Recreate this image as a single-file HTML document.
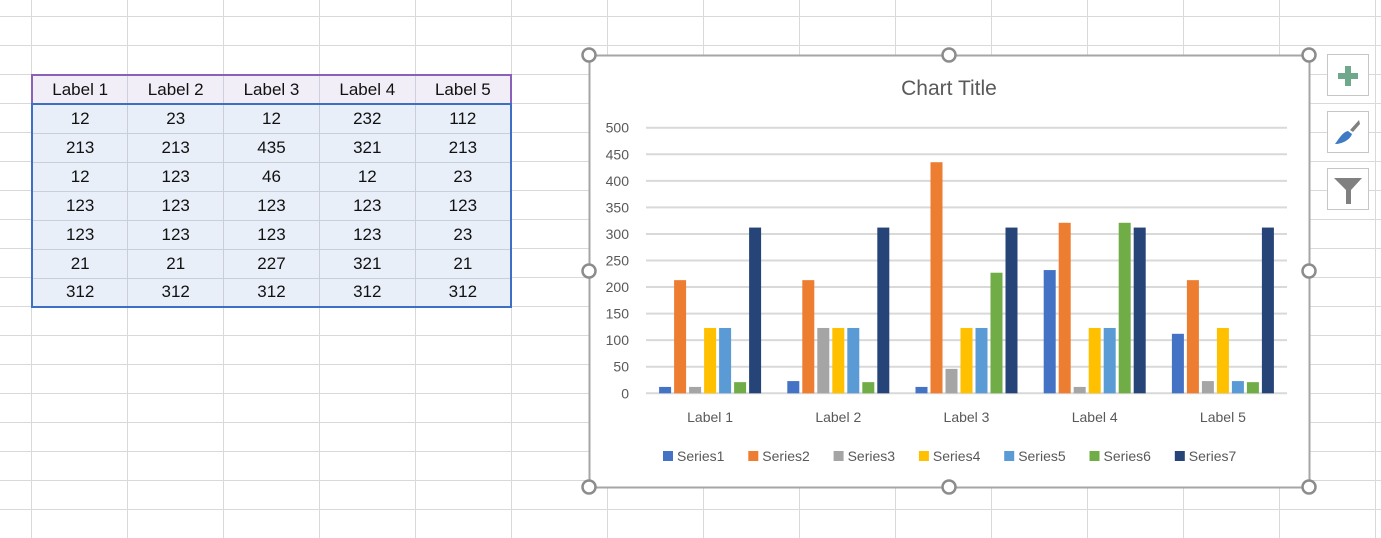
<!DOCTYPE html>
<html><head><meta charset="utf-8">
<style>
body{margin:0;width:1381px;height:538px;overflow:hidden;background:#fff;font-family:"Liberation Sans",sans-serif;position:relative}
.abs{position:absolute}
#tbl td{box-sizing:border-box}
</style></head>
<body>
<svg class="abs" style="left:0;top:0" width="1381" height="538" id="grid"></svg>

<table class="abs" style="left:31px;top:74px;width:481px;table-layout:fixed;border-collapse:collapse;font-size:17px;color:#111" id="tbl"></table>

<svg class="abs" style="left:0;top:0" width="1381" height="538" id="chart"></svg>

<div class="abs" style="left:1327px;top:54px;width:40px;height:40px;border:1px solid #c6c6c6;background:#fff">
 <div class="abs" style="left:10px;top:18px;width:20px;height:6px;background:#6fa98c"></div>
 <div class="abs" style="left:17px;top:11px;width:6px;height:20px;background:#6fa98c"></div>
</div>
<div class="abs" style="left:1327px;top:111px;width:40px;height:40px;border:1px solid #c6c6c6;background:#fff">
 <svg width="40" height="40"><path d="M31 8 L22 18 L25 20 L32 12Z" fill="#808080"/><path d="M20 19 C15 20 12 25 7 32 C14 32 22 28 24 22Z" fill="#3f7ac4"/></svg>
</div>
<div class="abs" style="left:1327px;top:168px;width:40px;height:40px;border:1px solid #c6c6c6;background:#fff">
 <svg width="40" height="40"><path d="M6 9 L34 9 L23 21 L23 35 L18 35 L18 21Z" fill="#808080"/></svg>
</div>

<script>
const NS='http://www.w3.org/2000/svg';
function mk(p,t,a){const e=document.createElementNS(NS,t);for(const k in a)e.setAttribute(k,a[k]);p.appendChild(e);return e;}
const g=document.getElementById('grid');
for(let x=31;x<1381;x+=96)mk(g,'line',{x1:x+.5,y1:0,x2:x+.5,y2:538,stroke:'#d9d9d9'});
for(let y=16;y<538;y+=29)mk(g,'line',{x1:0,y1:y+.5,x2:1381,y2:y+.5,stroke:'#d9d9d9'});

const categories=['Label 1','Label 2','Label 3','Label 4','Label 5'];
const seriesNames=['Series1','Series2','Series3','Series4','Series5','Series6','Series7'];
const s1=[12,23,12,232,112];
const s2=[213,213,435,321,213];
const s3=[12,123,46,12,23];
const s4=[123,123,123,123,123];
const s5=[123,123,123,123,23];
const s6=[21,21,227,321,21];
const s7=[312,312,312,312,312];
const yTicks=[0,50,100,150,200,250,300,350,400,450,500];
const series=[s1,s2,s3,s4,s5,s6,s7];
const colors=['#4472c4','#ed7d31','#a5a5a5','#ffc000','#5b9bd5','#70ad47','#264478'];

const tbl=document.getElementById('tbl');
const hr=tbl.insertRow();hr.style.height='29px';
categories.forEach(c=>{const td=hr.insertCell();td.textContent=c;


td.style.cssText='padding:0;text-align:center;background:#f1eef7;border:1px solid #d0cfe0;border-top:2px solid #8a60b8;border-bottom:2px solid #3d6fc4';});
hr.cells[0].style.borderLeft='2px solid #8a60b8';hr.cells[4].style.borderRight='2px solid #8a60b8';
series.forEach((s,i)=>{const r=tbl.insertRow();r.style.height='29px';s.forEach((v,j)=>{const td=r.insertCell();td.textContent=v;


td.style.cssText='padding:0;text-align:center;background:#e9eff9;border:1px solid #c9ced8'+(j==0?';border-left:2px solid #3d6fc4':'')+(j==4?';border-right:2px solid #3d6fc4':'')+(i==6?';border-bottom:2px solid #3d6fc4':'');});});

const c=document.getElementById('chart');
mk(c,'rect',{x:589.5,y:55.5,width:720,height:432,fill:'#fff',stroke:'#a6a6a6','stroke-width':2});
const t=mk(c,'text',{x:949,y:95,'text-anchor':'middle','font-size':21,fill:'#595959'});t.textContent='Chart Title';


const X0=646,X1=1287,Y0=393.3,Y500=127.7;
const yS=v=>Y0-(v/500)*(Y0-Y500);
const cw=(X1-X0)/categories.length;
yTicks.forEach(v=>{const y=yS(v);
 const l=mk(c,'line',{x1:X0,x2:X1,y1:y,y2:y,stroke:'#d9d9d9','stroke-width':2});
 
 
 const tx=mk(c,'text',{x:629,y:y+5,'text-anchor':'end','font-size':14,fill:'#595959'});tx.textContent=v;
 
 
});
const bw=12,step=15;
categories.forEach((cat,ci)=>{const cx=X0+cw*(ci+.5);const start=cx-(step*series.length-3)/2;
 series.forEach((s,si)=>{const y=yS(s[ci]);
  const r=mk(c,'rect',{x:start+si*step,y:y,width:bw,height:Y0-y,fill:colors[si]});
  
  
 });
 const tx=mk(c,'text',{x:cx,y:422,'text-anchor':'middle','font-size':14,fill:'#595959'});tx.textContent=cat;
 
 
});
seriesNames.forEach((n,i)=>{const x=663+i*85.3;
 const gg=mk(c,'g',{});
 
 
 mk(gg,'rect',{x:x,y:451,width:10,height:10,fill:colors[i]});
 const tx=mk(gg,'text',{x:x+14,y:461,'font-size':14,fill:'#595959'});tx.textContent=n;
});
[[589,55],[949,55],[1309,55],[589,271],[1309,271],[589,487],[949,487],[1309,487]].forEach(p=>{
 const h=mk(c,'circle',{cx:p[0],cy:p[1],r:6.5,fill:'#fff',stroke:'#8c8c8c','stroke-width':2.5});
 
 
});
</script>
</body></html>
